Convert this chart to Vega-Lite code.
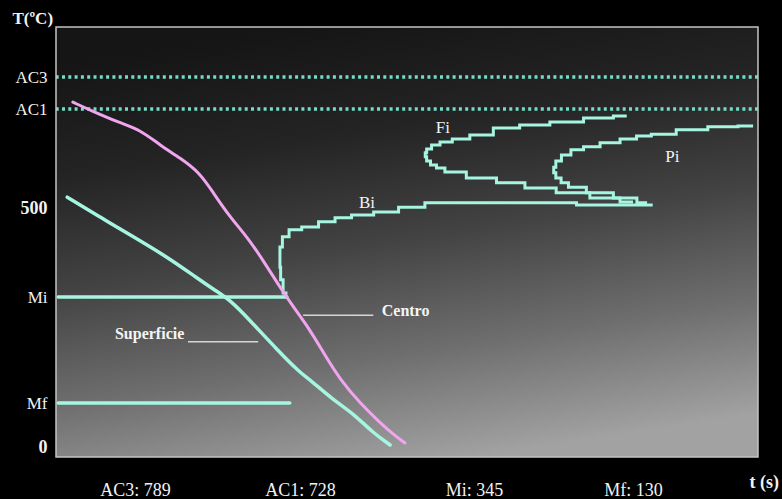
{
  "$schema": "https://vega.github.io/schema/vega-lite/v6.json",
  "width": 702,
  "height": 430,
  "autosize": {"type": "none"},
  "padding": {"left": 56, "top": 27, "right": 24, "bottom": 42},
  "background": "#000000",
  "config": {
    "view": {"stroke": null},
    "font": "Liberation Serif",
    "axis": {"grid": false, "ticks": false, "domain": false, "labelColor": "#f2f2f2", "titleColor": "#f2f2f2", "labelFont": "Liberation Serif", "titleFont": "Liberation Serif"}
  },
  "datasets": {
    "panel": [{"t0": 0, "t1": 100, "T0": -25, "T1": 900}],
    "levels": [{"name": "AC3", "T": 789}, {"name": "AC1", "T": 728}],
    "curves": [
      {"curve": "Superficie", "ord": 1, "t": 1.6, "T": 525},
      {"curve": "Superficie", "ord": 2, "t": 6.3, "T": 484},
      {"curve": "Superficie", "ord": 3, "t": 11.0, "T": 450},
      {"curve": "Superficie", "ord": 4, "t": 15.8, "T": 415},
      {"curve": "Superficie", "ord": 5, "t": 20.1, "T": 378},
      {"curve": "Superficie", "ord": 6, "t": 22.6, "T": 357},
      {"curve": "Superficie", "ord": 7, "t": 24.8, "T": 339},
      {"curve": "Superficie", "ord": 8, "t": 27.6, "T": 298},
      {"curve": "Superficie", "ord": 9, "t": 31.5, "T": 238},
      {"curve": "Superficie", "ord": 10, "t": 34.8, "T": 191},
      {"curve": "Superficie", "ord": 11, "t": 36.2, "T": 177},
      {"curve": "Superficie", "ord": 12, "t": 39.5, "T": 136},
      {"curve": "Superficie", "ord": 13, "t": 42.3, "T": 100},
      {"curve": "Superficie", "ord": 14, "t": 45.2, "T": 41},
      {"curve": "Superficie", "ord": 15, "t": 47.6, "T": 6},
      {"curve": "Mi", "ord": 1, "t": 0.3, "T": 345},
      {"curve": "Mi", "ord": 2, "t": 32.9, "T": 345},
      {"curve": "Mf", "ord": 1, "t": 0.3, "T": 130},
      {"curve": "Mf", "ord": 2, "t": 33.3, "T": 130},
      {"curve": "Centro", "ord": 1, "t": 2.4, "T": 741},
      {"curve": "Centro", "ord": 2, "t": 4.8, "T": 726},
      {"curve": "Centro", "ord": 3, "t": 9.1, "T": 696},
      {"curve": "Centro", "ord": 4, "t": 12.0, "T": 680},
      {"curve": "Centro", "ord": 5, "t": 14.8, "T": 645},
      {"curve": "Centro", "ord": 6, "t": 17.7, "T": 615},
      {"curve": "Centro", "ord": 7, "t": 20.5, "T": 581},
      {"curve": "Centro", "ord": 8, "t": 22.4, "T": 535},
      {"curve": "Centro", "ord": 9, "t": 24.8, "T": 484},
      {"curve": "Centro", "ord": 10, "t": 27.2, "T": 450},
      {"curve": "Centro", "ord": 11, "t": 29.5, "T": 409},
      {"curve": "Centro", "ord": 12, "t": 31.9, "T": 362},
      {"curve": "Centro", "ord": 13, "t": 33.8, "T": 325},
      {"curve": "Centro", "ord": 14, "t": 36.2, "T": 278},
      {"curve": "Centro", "ord": 15, "t": 38.3, "T": 227},
      {"curve": "Centro", "ord": 16, "t": 40.5, "T": 177},
      {"curve": "Centro", "ord": 17, "t": 43.3, "T": 130},
      {"curve": "Centro", "ord": 18, "t": 46.2, "T": 71},
      {"curve": "Centro", "ord": 19, "t": 48.3, "T": 33},
      {"curve": "Centro", "ord": 20, "t": 49.7, "T": 12},
      {"curve": "Bi", "ord": 1, "t": 32.9, "T": 345},
      {"curve": "Bi", "ord": 2, "t": 32.6, "T": 352},
      {"curve": "Bi", "ord": 3, "t": 32.1, "T": 375},
      {"curve": "Bi", "ord": 4, "t": 31.9, "T": 397},
      {"curve": "Bi", "ord": 5, "t": 31.9, "T": 432},
      {"curve": "Bi", "ord": 6, "t": 32.6, "T": 450},
      {"curve": "Bi", "ord": 7, "t": 33.8, "T": 462},
      {"curve": "Bi", "ord": 8, "t": 36.2, "T": 467},
      {"curve": "Bi", "ord": 9, "t": 38.6, "T": 476},
      {"curve": "Bi", "ord": 10, "t": 40.9, "T": 483},
      {"curve": "Bi", "ord": 11, "t": 43.3, "T": 488},
      {"curve": "Bi", "ord": 12, "t": 47.2, "T": 493},
      {"curve": "Bi", "ord": 13, "t": 50.4, "T": 502},
      {"curve": "Bi", "ord": 14, "t": 54.7, "T": 512},
      {"curve": "Bi", "ord": 15, "t": 63.3, "T": 512},
      {"curve": "Bi", "ord": 16, "t": 85.0, "T": 507},
      {"curve": "Fi", "ord": 1, "t": 81.3, "T": 712},
      {"curve": "Fi", "ord": 2, "t": 77.5, "T": 707},
      {"curve": "Fi", "ord": 3, "t": 72.8, "T": 698},
      {"curve": "Fi", "ord": 4, "t": 67.9, "T": 691},
      {"curve": "Fi", "ord": 5, "t": 64.2, "T": 684},
      {"curve": "Fi", "ord": 6, "t": 60.4, "T": 668},
      {"curve": "Fi", "ord": 7, "t": 57.5, "T": 659},
      {"curve": "Fi", "ord": 8, "t": 55.4, "T": 652},
      {"curve": "Fi", "ord": 9, "t": 54.0, "T": 645},
      {"curve": "Fi", "ord": 10, "t": 53.0, "T": 636},
      {"curve": "Fi", "ord": 11, "t": 52.6, "T": 627},
      {"curve": "Fi", "ord": 12, "t": 52.6, "T": 618},
      {"curve": "Fi", "ord": 13, "t": 53.0, "T": 608},
      {"curve": "Fi", "ord": 14, "t": 53.7, "T": 599},
      {"curve": "Fi", "ord": 15, "t": 54.7, "T": 592},
      {"curve": "Fi", "ord": 16, "t": 56.1, "T": 583},
      {"curve": "Fi", "ord": 17, "t": 60.8, "T": 569},
      {"curve": "Fi", "ord": 18, "t": 64.7, "T": 558},
      {"curve": "Fi", "ord": 19, "t": 68.9, "T": 546},
      {"curve": "Fi", "ord": 20, "t": 73.6, "T": 535},
      {"curve": "Fi", "ord": 21, "t": 78.5, "T": 523},
      {"curve": "Fi", "ord": 22, "t": 82.2, "T": 514},
      {"curve": "Pi", "ord": 1, "t": 99.3, "T": 689},
      {"curve": "Pi", "ord": 2, "t": 95.0, "T": 687},
      {"curve": "Pi", "ord": 3, "t": 90.7, "T": 680},
      {"curve": "Pi", "ord": 4, "t": 86.0, "T": 670},
      {"curve": "Pi", "ord": 5, "t": 83.6, "T": 666},
      {"curve": "Pi", "ord": 6, "t": 81.8, "T": 659},
      {"curve": "Pi", "ord": 7, "t": 78.9, "T": 650},
      {"curve": "Pi", "ord": 8, "t": 76.1, "T": 641},
      {"curve": "Pi", "ord": 9, "t": 74.2, "T": 634},
      {"curve": "Pi", "ord": 10, "t": 72.5, "T": 622},
      {"curve": "Pi", "ord": 11, "t": 71.5, "T": 608},
      {"curve": "Pi", "ord": 12, "t": 70.9, "T": 594},
      {"curve": "Pi", "ord": 13, "t": 70.9, "T": 581},
      {"curve": "Pi", "ord": 14, "t": 71.5, "T": 569},
      {"curve": "Pi", "ord": 15, "t": 72.4, "T": 558},
      {"curve": "Pi", "ord": 16, "t": 73.6, "T": 548},
      {"curve": "Pi", "ord": 17, "t": 77.5, "T": 535},
      {"curve": "Pi", "ord": 18, "t": 81.3, "T": 523},
      {"curve": "Pi", "ord": 19, "t": 84.2, "T": 512}
    ],
    "names": [
      {"text": "Fi", "t": 55.1, "T": 684},
      {"text": "Pi", "t": 87.8, "T": 618},
      {"text": "Bi", "t": 44.3, "T": 512}
    ],
    "notes": [
      {"text": "Centro", "t": 46.4, "T": 316},
      {"text": "Superficie", "t": 8.4, "T": 270}
    ],
    "leaders": [
      {"t": 35.2, "t2": 45.2, "T": 308},
      {"t": 18.8, "t2": 28.8, "T": 254}
    ]
  },
  "layer": [
    {
      "data": {"name": "panel"},
      "mark": {"type": "rect", "fill": {"gradient": "linear", "x1": 0.35, "y1": 0, "x2": 0.6, "y2": 1, "stops": [
        {"offset": 0, "color": "#151515"},
        {"offset": 0.25, "color": "#242424"},
        {"offset": 0.5, "color": "#434343"},
        {"offset": 0.75, "color": "#6e6e6e"},
        {"offset": 1, "color": "#a2a2a2"}
      ]}},
      "encoding": {
        "x": {"field": "t0", "type": "quantitative", "scale": {"domain": [0, 100], "nice": false, "zero": false}},
        "x2": {"field": "t1"},
        "y": {"field": "T0", "type": "quantitative", "scale": {"domain": [-25, 0, 130, 345, 500, 728, 789, 900], "range": [430, 420, 376, 270, 181, 82, 50, 0], "nice": false, "zero": false}},
        "y2": {"field": "T1"}
      }
    },
    {
      "data": {"name": "levels"},
      "mark": {"type": "rule", "stroke": "#74dcc6", "strokeWidth": 3.5, "strokeDash": [3, 3.3]},
      "encoding": {
        "y": {"field": "T", "type": "quantitative", "scale": {"domain": [-25, 0, 130, 345, 500, 728, 789, 900], "range": [430, 420, 376, 270, 181, 82, 50, 0], "nice": false, "zero": false}}
      }
    },
    {
      "data": {"name": "curves"},
      "transform": [{"filter": "indexof(['Superficie','Mi','Mf'], datum.curve) >= 0"}],
      "mark": {"type": "line", "stroke": "#a6f5e0", "strokeWidth": 3.5, "strokeCap": "round", "interpolate": "basis"},
      "encoding": {
        "x": {"field": "t", "type": "quantitative", "scale": {"domain": [0, 100], "nice": false, "zero": false},
          "axis": {"values": [11.25, 34.76, 59.54, 82.19], "labelExpr": "datum.value < 20 ? 'AC3: 789' : datum.value < 50 ? 'AC1: 728' : datum.value < 70 ? 'Mi: 345' : 'Mf: 130'", "labelFontSize": 18, "labelPadding": 24, "labelFlush": false, "labelOverlap": false,
            "title": "t (s)", "titleFontSize": 18, "titleFontWeight": "bold", "titleAlign": "left", "titleBaseline": "middle", "titleX": 693, "titleY": 25}},
        "y": {"field": "T", "type": "quantitative", "scale": {"domain": [-25, 0, 130, 345, 500, 728, 789, 900], "range": [430, 420, 376, 270, 181, 82, 50, 0], "nice": false, "zero": false},
          "axis": {"values": [0, 130, 345, 500, 728, 789], "labelExpr": "datum.value == 789 ? 'AC3' : datum.value == 728 ? 'AC1' : datum.value == 345 ? 'Mi' : datum.value == 130 ? 'Mf' : datum.label", "labelPadding": 9, "labelOverlap": false,
            "labelFontSize": {"condition": {"test": "datum.value == 500 || datum.value == 0", "value": 18}, "value": 17},
            "labelFontWeight": {"condition": {"test": "datum.value == 500 || datum.value == 0", "value": "bold"}, "value": "normal"},
            "title": "T(ºC)", "titleFontSize": 17, "titleFontWeight": "bold", "titleAngle": 0, "titleAlign": "left", "titleBaseline": "middle", "titleX": -44, "titleY": -9}},
        "detail": {"field": "curve"},
        "order": {"field": "ord"}
      }
    },
    {
      "data": {"name": "curves"},
      "transform": [{"filter": "indexof(['Bi','Fi','Pi'], datum.curve) >= 0"}],
      "mark": {"type": "line", "stroke": "#a6f5e0", "strokeWidth": 3, "interpolate": "step"},
      "encoding": {
        "x": {"field": "t", "type": "quantitative", "scale": {"domain": [0, 100], "nice": false, "zero": false}},
        "y": {"field": "T", "type": "quantitative", "scale": {"domain": [-25, 0, 130, 345, 500, 728, 789, 900], "range": [430, 420, 376, 270, 181, 82, 50, 0], "nice": false, "zero": false}},
        "detail": {"field": "curve"},
        "order": {"field": "ord"}
      }
    },
    {
      "data": {"name": "curves"},
      "transform": [{"filter": "datum.curve == 'Centro'"}],
      "mark": {"type": "line", "stroke": "#f2a5ef", "strokeWidth": 3, "strokeCap": "round", "interpolate": "basis"},
      "encoding": {
        "x": {"field": "t", "type": "quantitative", "scale": {"domain": [0, 100], "nice": false, "zero": false}},
        "y": {"field": "T", "type": "quantitative", "scale": {"domain": [-25, 0, 130, 345, 500, 728, 789, 900], "range": [430, 420, 376, 270, 181, 82, 50, 0], "nice": false, "zero": false}},
        "order": {"field": "ord"}
      }
    },
    {
      "data": {"name": "leaders"},
      "mark": {"type": "rule", "stroke": "#d6d6d6", "strokeWidth": 1.5},
      "encoding": {
        "x": {"field": "t", "type": "quantitative", "scale": {"domain": [0, 100], "nice": false, "zero": false}},
        "x2": {"field": "t2"},
        "y": {"field": "T", "type": "quantitative", "scale": {"domain": [-25, 0, 130, 345, 500, 728, 789, 900], "range": [430, 420, 376, 270, 181, 82, 50, 0], "nice": false, "zero": false}}
      }
    },
    {
      "data": {"name": "names"},
      "mark": {"type": "text", "font": "Liberation Serif", "fontSize": 17, "color": "#f4f4f4", "align": "center", "baseline": "middle"},
      "encoding": {
        "x": {"field": "t", "type": "quantitative", "scale": {"domain": [0, 100], "nice": false, "zero": false}},
        "y": {"field": "T", "type": "quantitative", "scale": {"domain": [-25, 0, 130, 345, 500, 728, 789, 900], "range": [430, 420, 376, 270, 181, 82, 50, 0], "nice": false, "zero": false}},
        "text": {"field": "text"}
      }
    },
    {
      "data": {"name": "notes"},
      "mark": {"type": "text", "font": "Liberation Serif", "fontSize": 16, "fontWeight": "bold", "color": "#f4f4f4", "align": "left", "baseline": "middle"},
      "encoding": {
        "x": {"field": "t", "type": "quantitative", "scale": {"domain": [0, 100], "nice": false, "zero": false}},
        "y": {"field": "T", "type": "quantitative", "scale": {"domain": [-25, 0, 130, 345, 500, 728, 789, 900], "range": [430, 420, 376, 270, 181, 82, 50, 0], "nice": false, "zero": false}},
        "text": {"field": "text"}
      }
    },
    {
      "data": {"name": "panel"},
      "mark": {"type": "rect", "filled": false, "stroke": "#c4c4c4", "strokeWidth": 1.5},
      "encoding": {
        "x": {"field": "t0", "type": "quantitative", "scale": {"domain": [0, 100], "nice": false, "zero": false}},
        "x2": {"field": "t1"},
        "y": {"field": "T0", "type": "quantitative", "scale": {"domain": [-25, 0, 130, 345, 500, 728, 789, 900], "range": [430, 420, 376, 270, 181, 82, 50, 0], "nice": false, "zero": false}},
        "y2": {"field": "T1"}
      }
    }
  ]
}
